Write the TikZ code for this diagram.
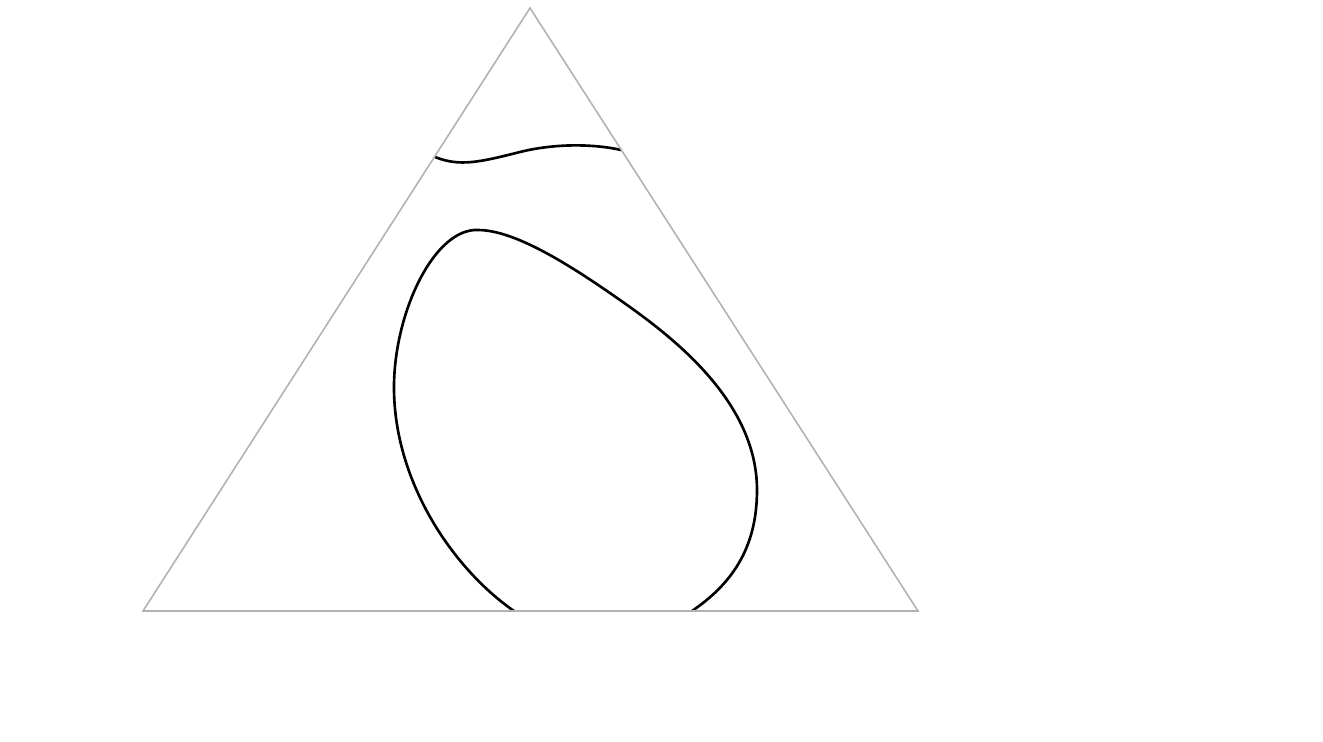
\documentclass[tikz,border=0pt]{standalone}
\usetikzlibrary{positioning}

\begin{document}
\begin{tikzpicture}[x=0.01cm, y=-0.01cm]
    \tikzset{
        edgestyle/.style={gray!60, line width=0.45pt},
        curvestyle/.style={black, line width=0.75pt}
    }
    \useasboundingbox (0,0) rectangle (1323,741);

    % corners of the simplex
    \coordinate (left) at (143,611);
    \coordinate (right) at (918,611);
    \coordinate (apex) at (530,8);

    % upper curve
    \draw[curvestyle] (435,157) .. controls (460,167) and (480,162) .. (520,152)
        .. controls (560,142) and (600,145) .. (621,150);

    % loop, open at the base
    \draw[curvestyle] (514,611) .. controls (452,568) and (393,480) .. (394,385)
        .. controls (395,310) and (435,228) .. (478,230)
        .. controls (515,230) and (570,265) .. (620,300)
        .. controls (670,335) and (757,400) .. (757,490)
        .. controls (757,550) and (730,585) .. (692,611);

    \draw[edgestyle] (left) -- (right) -- (apex) -- cycle;
\end{tikzpicture}
\end{document}
